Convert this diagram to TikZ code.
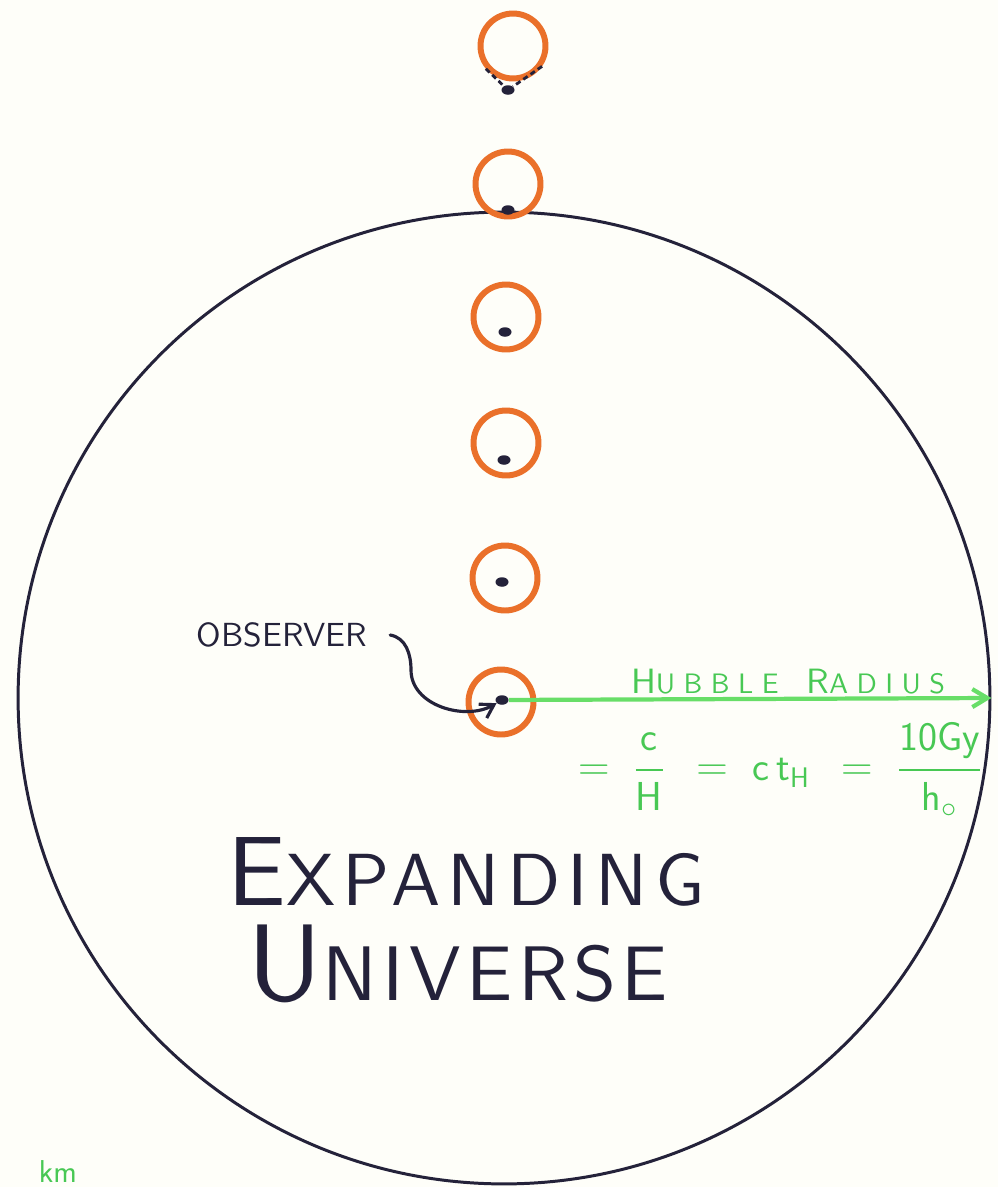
\documentclass[tikz,border=0pt]{standalone}
\usepackage{fontspec}
\usepackage{amsmath}
\usetikzlibrary{arrows.meta, positioning, shapes.geometric}

\newfontfamily\handfont{lmsans10-regular.otf}

\definecolor{paper}{RGB}{254,254,249}
\definecolor{inkblue}{RGB}{36,34,58}
\definecolor{ringorange}{RGB}{234,112,42}
\definecolor{hubgreen}{RGB}{104,222,104}
\definecolor{hubtext}{RGB}{72,200,84}

\begin{document}
\begin{tikzpicture}[x=0.02cm, y=-0.02cm,
    ring/.style={circle, draw=ringorange, line width=3.4pt, minimum size=1.3cm,
                 inner sep=0pt},
    galaxy/.style={ellipse, fill=inkblue, minimum width=0.26cm,
                   minimum height=0.19cm, inner sep=0pt},
    hand/.style={font=\handfont\addfontfeature{LetterSpace=#1}, text=inkblue,
                 inner sep=0pt},
    hub/.style={font=\handfont\addfontfeature{LetterSpace=30}, text=hubtext,
                inner sep=0pt},
    hubeqn/.style={font=\sffamily, text=hubtext, inner sep=0pt},
    hubarr/.style={-{Straight Barb[length=3mm, width=3.6mm]}, line width=2.4pt,
                   hubgreen},
    ptr/.style={-{Straight Barb[length=2.6mm, width=3.2mm]}, line width=1.8pt,
                inkblue, line cap=round},
    vmark/.style={densely dashed, line width=1.6pt, inkblue},
  ]
    % === sheet ===
    \useasboundingbox (0,0) rectangle (998,1187);
    \fill[paper] (0,0) rectangle (998,1187);
    \clip (0,0) rectangle (998,1187);

    % === Hubble sphere ===
    \node[circle, draw=inkblue, line width=1.7pt, minimum size=19.44cm,
          inner sep=0pt] (universe) at (504,698) {};

    % === Galaxies along the line of sight (top to bottom) ===
    \node[ring] (r1) at (513,46) {};
    \node[ring] (r2) at (508,184) {};
    \node[ring] (r3) at (506,317) {};
    \node[ring] (r4) at (506,443) {};
    \node[ring] (r5) at (505,578) {};
    \node[ring] (r6) at (501,702) {};

    \node[galaxy] (g1) at (508,90) {};
    \node[galaxy] (g2) at (508,210) {};
    \node[galaxy] (g3) at (505,332) {};
    \node[galaxy] (g4) at (504,460) {};
    \node[galaxy] (g5) at (502,582) {};
    \node[galaxy] (g6) at (502,700) {};

    % galaxy beyond the horizon
    \draw[vmark] (r1.-140) -- (g1);
    \draw[vmark] (r1.-35) -- (g1);

    % === Hubble radius ===
    \draw[hubarr] (g6) -- (universe.east);
    \node[hub] (hubble) at (788,682)
      {\fontsize{20}{24}\selectfont H\fontsize{16}{19}\selectfont UBBLE\quad
       \fontsize{20}{24}\selectfont R\fontsize{16}{19}\selectfont ADIUS};
    \node[hubeqn] (hubeq) at (780,770)
      {\fontsize{23}{27}\selectfont
       $=\;\dfrac{\mathsf{c}}{\mathsf{H}}\;\,=\;\mathsf{c\,t}_{\mathsf{H}}\;\,=\;
        \dfrac{\mathsf{10Gy}}{\mathsf{h}_{\circ}}$};

    % === Observer ===
    \node[hand=0] (obs) at (282,635)
      {\fontsize{19}{22}\selectfont OBSERVER};
    \coordinate (kink) at (411,670);
    \draw[ptr] ([xshift=0.45cm]obs.east) to[out=-10, in=90] (kink)
      to[out=-90, in=210, shorten >=0.25cm] (g6);

    % === Title ===
    \node[hand=10, anchor=base] (expand) at (466,905)
      {\fontsize{56}{60}\selectfont E\fontsize{42}{48}\selectfont XPANDING};
    \node[hand=7, anchor=base] (univ) at (458,1000)
      {\fontsize{62}{66}\selectfont U\fontsize{44}{48}\selectfont NIVERSE};

    % === scale note (cut by the sheet edge) ===
    \node[hubeqn] (km) at (58,1172) {\fontsize{18}{22}\selectfont km};
  \end{tikzpicture}
\end{document}
